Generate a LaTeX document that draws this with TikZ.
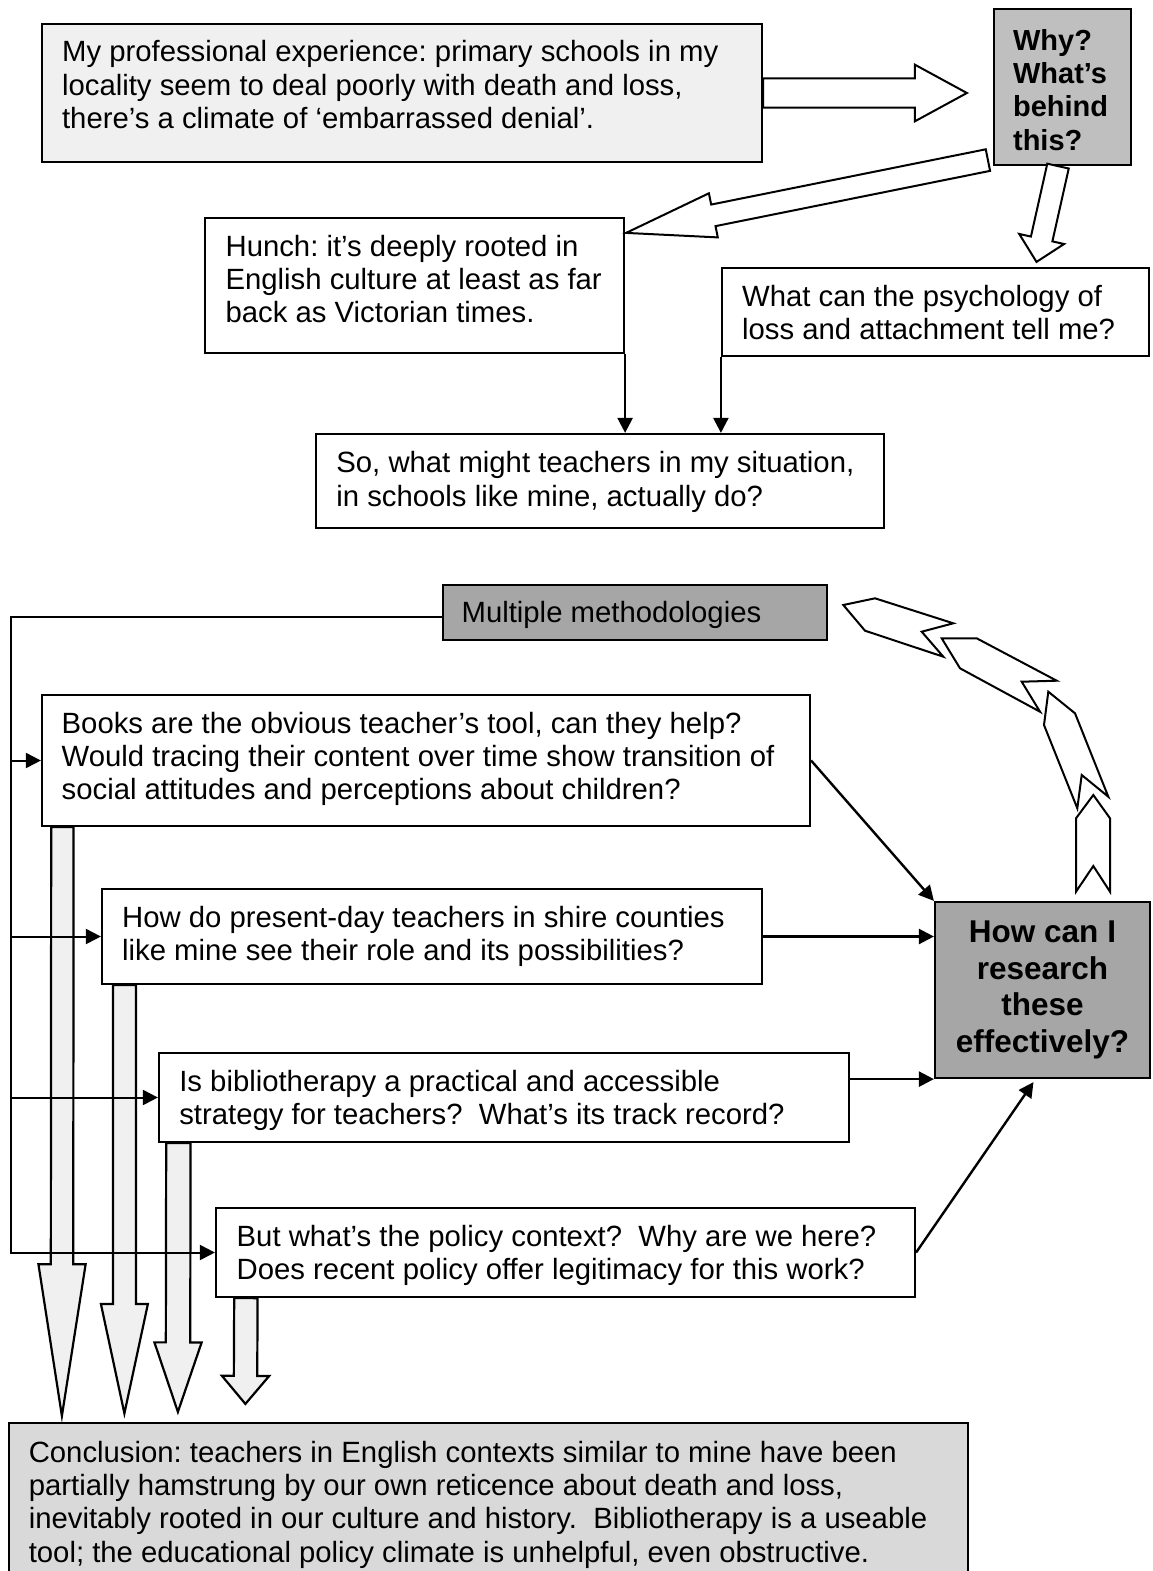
\documentclass[tikz,border=0pt]{standalone}
\usepackage{fontspec}
\setmainfont{Liberation Sans}
\usetikzlibrary{arrows.meta,calc}

\definecolor{palegrey}{gray}{0.94}
\definecolor{whygrey}{gray}{0.75}
\definecolor{darkgrey}{gray}{0.65}
\definecolor{conclgrey}{gray}{0.85}

% block arrow: style, from, to, shaft half width, head half width, head length
\newcommand{\fatarrow}[6]{%
  \path ($(#3)!#6!(#2)$) coordinate (fat-base);
  \draw[#1] ($(#2)!#4!90:(#3)$) -- ($(fat-base)!#4!90:(#3)$)
    -- ($(fat-base)!#5!90:(#3)$) -- (#3) -- ($(fat-base)!#5!-90:(#3)$)
    -- ($(fat-base)!#4!-90:(#3)$) -- ($(#2)!#4!-90:(#3)$) -- cycle;
}

\begin{document}
\frenchspacing
\begin{tikzpicture}[x=1pt,y=-1pt,
    >={Triangle[length=15pt,width=15pt]},
    box/.style={rectangle, draw, line width=2.2pt, inner sep=0pt},
    txt/.style={anchor=north west, inner sep=0pt, align=left,
                font=\fontsize{29.3}{33.3}\selectfont},
    link/.style={->, line width=2.4pt},
    fat/.style={fill=white, line width=2pt},
    drop/.style={fill=palegrey, line width=2.2pt},
    chev/.style={fill=white, line width=2pt}]

    \useasboundingbox (0,0) rectangle (1152,1571);

    % top part
    \node[box,
          fill = palegrey,
          minimum width = 720pt,
          minimum height = 138pt
          ] (exp) at (402,93) {};
    \node[txt] (exp-t) at ($(exp.north west)+(21,17.5)$)
      {My professional experience: primary schools in my\\
       locality seem to deal poorly with death and loss,\\
       there’s a climate of ‘embarrassed denial’.};

    \node[box,
          fill = whygrey,
          minimum width = 137pt,
          minimum height = 156pt
          ] (why) at (1062.5,87) {};
    \node[txt, font=\bfseries\fontsize{29}{33.3}\selectfont] (why-t)
      at ($(why.north west)+(20,21)$) {Why?\\What’s\\behind\\this?};

    \node[box,
          minimum width = 419pt,
          minimum height = 135pt
          ] (hunch) at (414.5,285.5) {};
    \node[txt] (hunch-t) at ($(hunch.north west)+(21.5,17.7)$)
      {Hunch: it’s deeply rooted in\\
       English culture at least as far\\
       back as Victorian times.};

    \node[box,
          minimum width = 427pt,
          minimum height = 88pt
          ] (psych) at (935.5,312) {};
    \node[txt] (psych-t) at ($(psych.north west)+(21,18)$)
      {What can the psychology of\\
       loss and attachment tell me?};

    \node[box,
          minimum width = 568pt,
          minimum height = 94pt
          ] (sowhat) at (600,481) {};
    \node[txt] (sowhat-t) at ($(sowhat.north west)+(21.3,18.5)$)
      {So, what might teachers in my situation,\\
       in schools like mine, actually do?};

    % bottom part
    \node[box,
          fill = darkgrey,
          minimum width = 384pt,
          minimum height = 55pt
          ] (methods) at (635,612.5) {};
    \node[txt] (methods-t) at ($(methods.north west)+(19.5,17.5)$)
      {Multiple methodologies};

    \node[box,
          minimum width = 768pt,
          minimum height = 131pt
          ] (books) at (426,760.5) {};
    \node[txt] (books-t) at ($(books.north west)+(20.6,17.7)$)
      {Books are the obvious teacher’s tool, can they help?\\
       Would tracing their content over time show transition of\\
       social attitudes and perceptions about children?};

    \node[box,
          minimum width = 660pt,
          minimum height = 95pt
          ] (howdo) at (432,936.5) {};
    \node[txt] (howdo-t) at ($(howdo.north west)+(21,17.7)$)
      {How do present-day teachers in shire counties\\
       like mine see their role and its possibilities?};

    \node[box,
          minimum width = 690pt,
          minimum height = 89pt
          ] (biblio) at (504,1097.5) {};
    \node[txt] (biblio-t) at ($(biblio.north west)+(21.2,17.7)$)
      {Is bibliotherapy a practical and accessible\\
       strategy for teachers?\ \ What’s its track record?};

    \node[box,
          minimum width = 699pt,
          minimum height = 89pt
          ] (butwhat) at (565.5,1252.5) {};
    \node[txt] (butwhat-t) at ($(butwhat.north west)+(21.6,17.7)$)
      {But what’s the policy context?\ \ Why are we here?\\
       Does recent policy offer legitimacy for this work?};

    \node[box,
          fill = darkgrey,
          minimum width = 215pt,
          minimum height = 176pt
          ] (hcan) at (1042.5,990) {};
    \node[inner sep=0pt, align=center,
          font=\bfseries\fontsize{31.5}{36.8}\selectfont] (hcan-t) at (hcan.center)
      {How can I\\research\\these\\effectively?};

    \node[box,
          fill = conclgrey,
          minimum width = 959pt,
          minimum height = 167pt
          ] (concl) at (488.5,1506.5) {};
    \node[txt] (concl-t) at ($(concl.north west)+(20.7,19)$)
      {Conclusion: teachers in English contexts similar to mine have been\\
       partially hamstrung by our own reticence about death and loss,\\
       inevitably rooted in our culture and history.\ \ Bibliotherapy is a useable\\
       tool; the educational policy climate is unhelpful, even obstructive.};

    % block arrows
    \coordinate (why-in) at ($(why.west |- exp.east)+(-26,0)$);
    \coordinate (why-diag) at ($(why.south west)+(-5,-6)$);
    \coordinate (hunch-in) at ($(hunch.north east)+(1,16)$);
    \coordinate (why-down) at ($(why.south)+(-4.5,0)$);
    \coordinate (psych-in) at ($(psych.north)+(101,-5)$);
    \fatarrow{fat}{exp.east}{why-in}{14.7pt}{28.3pt}{52pt}
    \fatarrow{fat}{why-diag}{hunch-in}{11pt}{22.5pt}{89pt}
    \fatarrow{fat}{why-down}{psych-in}{11pt}{23pt}{23.5pt}

    \coordinate (books-out) at ($(books.south west)+(21.5,0)$);
    \coordinate (howdo-out) at ($(howdo.south west)+(23.5,0)$);
    \coordinate (biblio-out) at ($(biblio.south west)+(20.5,0)$);
    \coordinate (butwhat-out) at ($(butwhat.south west)+(31,0)$);
    \coordinate (drop1) at ($(concl.north west)+(54,-6)$);
    \coordinate (drop2) at ($(concl.north west)+(116.5,-8.5)$);
    \coordinate (drop3) at ($(concl.north west)+(170,-10)$);
    \coordinate (drop4) at ($(concl.north west)+(237.5,-18)$);
    \fatarrow{drop}{books-out}{drop1}{11.2pt}{23.6pt}{151.7pt}
    \fatarrow{drop}{howdo-out}{drop2}{11.5pt}{23.5pt}{109.5pt}
    \fatarrow{drop}{biblio-out}{drop3}{12.2pt}{23.6pt}{69.5pt}
    \fatarrow{drop}{butwhat-out}{drop4}{11.7pt}{23.6pt}{28pt}

    % chevrons from hcan up to methods
    \draw[chev] (843.3,605) -- (875,598.3) -- (953.3,623.3) -- (921.7,631.7)
      -- (943.3,656.7) -- (865,630.7) -- cycle;
    \draw[chev] (941.7,638.3) -- (976.7,638.3) -- (1056.7,680.7) -- (1021.7,681.7)
      -- (1040,711.7) -- (960,668.3) -- cycle;
    \draw[chev] (1048.3,691.7) -- (1075,713.3) -- (1108.3,796.7) -- (1081.7,775)
      -- (1077.3,808.3) -- (1044,725) -- cycle;
    \draw[chev] (1093.3,795) -- (1110,818.3) -- (1110,891.7) -- (1093.3,866)
      -- (1076,891.7) -- (1076,818.3) -- cycle;

    % connectors
    \coordinate (rail) at (11,0);
    \coordinate (methods-out) at ($(methods.west)+(0,4)$);
    \coordinate (hcan-in) at ($(hcan.south)+(-9,3)$);

    \draw[link] (hunch.south east) -- (hunch.south east |- sowhat.north);
    \draw[link] (psych.south west) -- (psych.south west |- sowhat.north);

    \draw[link, line width=2pt] (methods-out) -| (rail |- butwhat.west) -- (butwhat.west);
    \draw[link, line width=2pt] (rail |- books.west) -- (books.west);
    \draw[link, line width=2pt] (rail |- howdo.west) -- (howdo.west);
    \draw[link, line width=2pt] (rail |- biblio.west) -- (biblio.west);

    \draw[link] (books.east) -- (hcan.north west);
    \draw[link] (howdo.east) -- (hcan.west |- howdo.east);
    \draw[link] (biblio.east |- hcan.south west) -- (hcan.south west);
    \draw[link] (butwhat.east) -- (hcan-in);

\end{tikzpicture}
\end{document}
